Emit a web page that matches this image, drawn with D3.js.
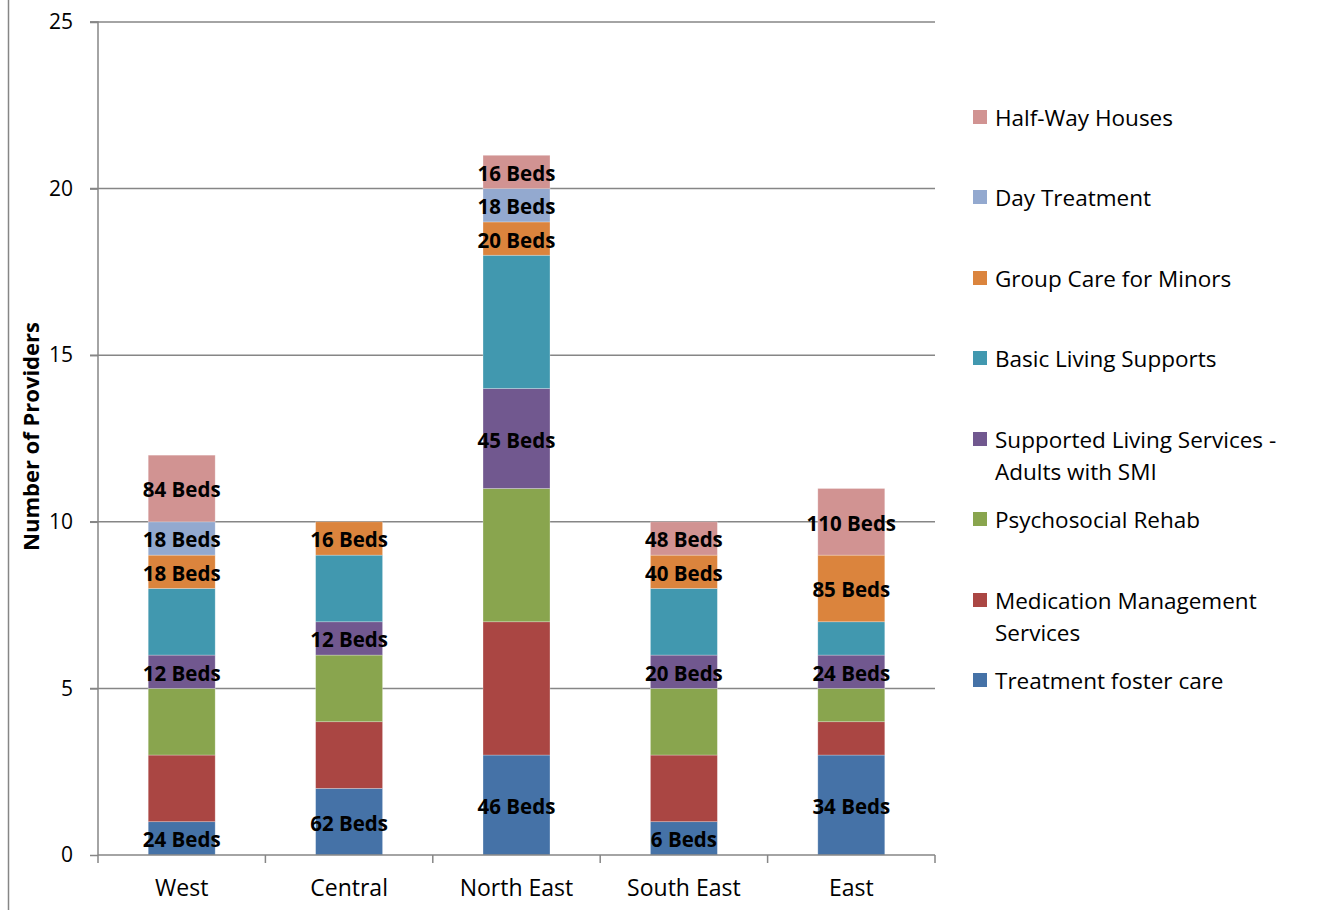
<!DOCTYPE html>
<html>
<head>
<meta charset="utf-8">
<script src="https://cdn.jsdelivr.net/npm/d3@7"></script>
<style>
  html, body { margin: 0; padding: 0; background: #fff; }
  svg { display: block; }
  text { font-family: "Open Sans", "Noto Sans", sans-serif; }
</style>
</head>
<body>
<svg id="chart" width="1319" height="910"></svg>
<script>
// Regions along the x axis
const regions = ["West", "Central", "North East", "South East", "East"];

// Service types, bottom of the stack first
const services = [
  "Treatment foster care",
  "Medication Management Services",
  "Psychosocial Rehab",
  "Supported Living Services - Adults with SMI",
  "Basic Living Supports",
  "Group Care for Minors",
  "Day Treatment",
  "Half-Way Houses"
];

// Number of providers per region, one array per service
const treatmentFosterCare   = [1, 2, 3, 1, 3];
const medicationManagement  = [2, 2, 4, 2, 1];
const psychosocialRehab     = [2, 2, 4, 2, 1];
const supportedLiving       = [1, 1, 3, 1, 1];
const basicLivingSupports   = [2, 2, 4, 2, 1];
const groupCareForMinors    = [1, 1, 1, 1, 2];
const dayTreatment          = [1, 0, 1, 0, 0];
const halfWayHouses         = [2, 0, 1, 1, 2];

// Bed counts written on the segments (null = no label)
const bedsTreatmentFosterCare = [24, 62, 46, 6, 34];
const bedsSupportedLiving     = [12, 12, 45, 20, 24];
const bedsGroupCare           = [18, 16, 20, 40, 85];
const bedsDayTreatment        = [18, null, 18, null, null];
const bedsHalfWay             = [84, null, 16, 48, 110];

const yTicks = [0, 5, 10, 15, 20, 25];

const colors = ["#4572A7", "#AA4643", "#89A54E", "#71588F", "#4198AF", "#DB843D", "#93A9CF", "#D19392"];

const seriesValues = [
  treatmentFosterCare, medicationManagement, psychosocialRehab, supportedLiving,
  basicLivingSupports, groupCareForMinors, dayTreatment, halfWayHouses
];
const seriesBeds = [
  bedsTreatmentFosterCare, null, null, bedsSupportedLiving,
  null, bedsGroupCare, bedsDayTreatment, bedsHalfWay
];

// Build a table for d3.stack
const table = regions.map((r, i) => {
  const row = { region: r };
  services.forEach((s, k) => { row[s] = seriesValues[k][i]; });
  return row;
});

const svg = d3.select("#chart");
const margin = { left: 98, right: 1319 - 935, top: 22, bottom: 910 - 855 };
const W = 1319, H = 910;

const x = d3.scaleBand().domain(regions).range([margin.left, W - margin.right]).paddingInner(0.6).paddingOuter(0.3);
const xOuter = d3.scaleBand().domain(regions).range([margin.left, W - margin.right]);
const y = d3.scaleLinear().domain([0, 25]).range([H - margin.bottom, margin.top]);

// chart frame line on the left
svg.append("line").attr("x1", 8.5).attr("x2", 8.5).attr("y1", 0).attr("y2", H)
  .attr("stroke", "#868686").attr("stroke-width", 1.5);

// gridlines
svg.append("g").selectAll("line").data(yTicks.filter(d => d > 0)).join("line")
  .attr("x1", margin.left - 8).attr("x2", W - margin.right)
  .attr("y1", d => y(d)).attr("y2", d => y(d))
  .attr("stroke", "#868686").attr("stroke-width", 1.5);

// stacked bars
const stack = d3.stack().keys(services);
const stacked = stack(table);

const layers = svg.append("g").selectAll("g").data(stacked).join("g")
  .attr("fill", (d, i) => colors[i]);

layers.selectAll("rect").data(d => d.filter(p => p[1] - p[0] > 0)).join("rect")
  .attr("x", d => x(d.data.region))
  .attr("width", x.bandwidth())
  .attr("y", d => y(d[1]))
  .attr("height", d => y(d[0]) - y(d[1]))
  .attr("stroke", "rgba(255,255,255,0.35)").attr("stroke-width", 0.75);

// y axis
const yAxis = d3.axisLeft(y).tickValues(yTicks).tickSize(8).tickPadding(17).tickFormat(d3.format("d"));
const gy = svg.append("g").attr("transform", `translate(${margin.left},0)`).call(yAxis);
gy.select(".domain").attr("stroke", "#868686").attr("stroke-width", 1.5).attr("d", `M-8,${y(25)}H0V${y(0)}`);
gy.selectAll(".tick line").attr("stroke", "#868686").attr("stroke-width", 1.5);
gy.selectAll(".tick text").attr("font-size", 21).attr("fill", "#000")
  .attr("font-family", "'Open Sans', sans-serif");

// x axis
const xAxis = d3.axisBottom(xOuter).tickSize(0).tickPadding(25);
const gx = svg.append("g").attr("transform", `translate(0,${y(0)})`).call(xAxis);
gx.select(".domain").attr("stroke", "#868686").attr("stroke-width", 1.5).attr("d", `M${margin.left},0H${W - margin.right}`);
gx.selectAll(".tick text").attr("font-size", 23).attr("fill", "#000")
  .attr("font-family", "'Open Sans', sans-serif");
// tick marks between categories
const boundaries = regions.map(r => xOuter(r)).concat([W - margin.right]);
gx.append("g").selectAll("line").data(boundaries).join("line")
  .attr("x1", d => d).attr("x2", d => d).attr("y1", 0).attr("y2", 8)
  .attr("stroke", "#868686").attr("stroke-width", 1.5);

// y axis title
svg.append("text")
  .attr("transform", `translate(30,${(y(0) + y(25)) / 2 - 2}) rotate(-90)`)
  .attr("text-anchor", "middle").attr("dominant-baseline", "central")
  .attr("font-size", 22).attr("font-weight", "bold").attr("fill", "#000")
  .text("Number of Providers");

// bed labels
const labelData = [];
stacked.forEach((layer, k) => {
  const beds = seriesBeds[k];
  if (!beds) return;
  layer.forEach((p, i) => {
    if (beds[i] == null) return;
    labelData.push({ region: regions[i], mid: (p[0] + p[1]) / 2, text: beds[i] + " Beds" });
  });
});
svg.append("g").selectAll("text").data(labelData).join("text")
  .attr("x", d => x(d.region) + x.bandwidth() / 2)
  .attr("y", d => y(d.mid) + 1)
  .attr("text-anchor", "middle").attr("dominant-baseline", "central")
  .attr("font-size", 20.5).attr("font-weight", "bold").attr("fill", "#000")
  .text(d => d.text);

// legend (top entry is the last stacked series)
const legendRows = [
  { k: 7, lines: ["Half-Way Houses"], y: 117 },
  { k: 6, lines: ["Day Treatment"], y: 197 },
  { k: 5, lines: ["Group Care for Minors"], y: 278 },
  { k: 4, lines: ["Basic Living Supports"], y: 358 },
  { k: 3, lines: ["Supported Living Services -", "Adults with SMI"], y: 439 },
  { k: 2, lines: ["Psychosocial Rehab"], y: 519 },
  { k: 1, lines: ["Medication Management", "Services"], y: 600 },
  { k: 0, lines: ["Treatment foster care"], y: 680 }
];
const lg = svg.append("g").selectAll("g").data(legendRows).join("g")
  .attr("transform", d => `translate(973,${d.y})`);
lg.append("rect").attr("x", 0).attr("y", -7).attr("width", 14).attr("height", 14)
  .attr("fill", d => colors[d.k]);
lg.append("text").attr("x", 22).attr("font-size", 22.5).attr("fill", "#000")
  .attr("dominant-baseline", "central")
  .selectAll("tspan").data(d => d.lines).join("tspan")
  .attr("x", 22).attr("dy", (d, i) => i === 0 ? 0 : 32)
  .text(d => d);
</script>
</body>
</html>
